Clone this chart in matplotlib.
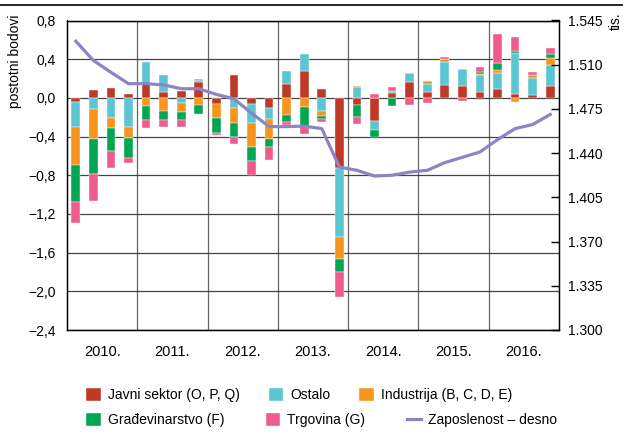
import matplotlib
matplotlib.use('Agg')
import matplotlib.pyplot as plt
from matplotlib.lines import Line2D
import numpy as np

plt.rcParams['font.family'] = ['Liberation Sans', 'DejaVu Sans']

years = ['2010.', '2011.', '2012.', '2013.', '2014.', '2015.', '2016.']

# contributions by sector, quarterly (percentage points)
javni = [-0.045, 0.08, 0.10, 0.045,
         0.14, 0.06, 0.075, 0.165,
         -0.065, 0.24, -0.06, -0.105,
         0.145, 0.28, 0.095, -0.725,
         -0.075, -0.24, 0.05, 0.16,
         0.06, 0.135, 0.125, 0.065,
         0.095, 0.04, 0.028, 0.125]
ostalo = [-0.255, -0.115, -0.205, -0.30,
          0.23, 0.18, -0.05, 0.02,
          0.0, -0.10, -0.20, -0.11,
          0.13, 0.17, -0.135, -0.715,
          0.11, -0.09, 0.02, 0.10,
          0.085, 0.24, 0.17, 0.17,
          0.16, 0.42, 0.18, 0.21]
industrija = [-0.395, -0.315, -0.11, -0.115,
              -0.085, -0.14, -0.10, -0.075,
              -0.14, -0.16, -0.25, -0.21,
              -0.18, -0.095, -0.05, -0.225,
              0.017, 0.0, 0.0, 0.0,
              0.03, 0.025, 0.0, 0.017,
              0.03, -0.045, 0.025, 0.08]
gradevinarstvo = [-0.38, -0.355, -0.235, -0.21,
                  -0.14, -0.085, -0.08, -0.095,
                  -0.16, -0.14, -0.14, -0.08,
                  -0.065, -0.20, -0.035, -0.135,
                  -0.12, -0.07, -0.08, 0.0,
                  0.0, 0.0, 0.0, 0.014,
                  0.075, 0.027, 0.0, 0.035]
trgovina = [-0.215, -0.28, -0.17, -0.045,
            -0.085, -0.08, -0.07, 0.015,
            -0.017, -0.08, -0.145, -0.14,
            -0.04, -0.075, -0.03, -0.26,
            -0.075, 0.04, 0.04, -0.07,
            -0.05, 0.02, -0.03, 0.05,
            0.305, 0.145, 0.03, 0.07]

# employment, thousands (right axis)
zaposlenost = [1.5286, 1.5134, 1.504, 1.495,
               1.495, 1.494, 1.491, 1.491,
               1.4865, 1.483, 1.4717, 1.461,
               1.461, 1.4614, 1.4594, 1.429,
               1.4264, 1.4219, 1.4225, 1.425,
               1.4264, 1.4325, 1.4367, 1.4409,
               1.4507, 1.4594, 1.4627, 1.4706]

series = [
    ('Javni sektor (O, P, Q)', javni, '#BE3A26'),
    ('Ostalo', ostalo, '#5BC5D1'),
    ('Industrija (B, C, D, E)', industrija, '#F7941D'),
    ('Građevinarstvo (F)', gradevinarstvo, '#00A651'),
    ('Trgovina (G)', trgovina, '#EF5B8C'),
]

x = np.arange(len(javni))

fig = plt.figure(figsize=(6.23, 4.32), dpi=100)
ax = fig.add_axes([67 / 623, 102 / 432, 492 / 623, 309.5 / 432])

#stacked bars, positive and negative parts stacked separately
pos = np.zeros(len(x))
neg = np.zeros(len(x))
handles = {}
for name, vals, col in series:
    v = np.array(vals)
    bottom = np.where(v >= 0, pos, neg)
    b = ax.bar(x, v, 0.5, bottom=bottom, color=col, edgecolor='white',
               linewidth=0.3, zorder=2, label=name)
    handles[name] = b
    pos += np.where(v >= 0, v, 0)
    neg += np.where(v < 0, v, 0)

ax.set_xlim(-0.5, 27.5)
ax.set_ylim(-2.4, 0.8)
yt = np.arange(-2.4, 0.81, 0.4)
ax.set_yticks(yt)
ax.set_yticklabels([f"{round(v, 1):.1f}".replace('.', ',').replace('-', '\u2212')
                    if abs(v) > 1e-9 else '0,0' for v in yt], fontsize=10)
ax.tick_params(axis='y', length=0, pad=8)

ax.set_xticks(np.arange(1.5, 28, 4))
ax.set_xticklabels(years, fontsize=10.5)
ax.set_xticks(np.arange(3.5, 27, 4), minor=True)
ax.tick_params(axis='x', which='both', length=0, pad=11)

ax.grid(axis='y', color='#444444', lw=0.9, zorder=0)
ax.grid(axis='x', which='minor', color='#666666', lw=0.9, zorder=0)
ax.set_axisbelow(True)
for s in ax.spines.values():
    s.set_linewidth(1.0)

# employment line on the right axis
ax2 = ax.twinx()
ln, = ax2.plot(x, zaposlenost, color='#8C85C5', lw=2.3, zorder=3,
               label='Zaposlenost \u2013 desno')
ax2.set_ylim(1.300, 1.545)
rt = [1.300 + 0.035 * i for i in range(8)]
ax2.set_yticks(rt)
ax2.set_yticklabels([f"{v:.3f}" for v in rt], fontsize=10)
ax2.tick_params(axis='y', direction='in', length=6, width=1, pad=6.5)

fig.text(15 / 623, 1 - 14 / 432, 'postotni bodovi', rotation=90,
         ha='center', va='top', fontsize=10)
fig.text(616 / 623, 1 - 12 / 432, 'tis.', rotation=90,
         ha='center', va='top', fontsize=10)

# rule across the top
fig.add_artist(Line2D([0, 1], [1 - 5 / 432] * 2, color='black', lw=1.2))

# legend, two rows
leg_kw = dict(ncol=3, loc='upper left', frameon=False, fontsize=10,
              handlelength=1.05, handleheight=1.05, handletextpad=0.5,
              borderpad=0, borderaxespad=0)
row1 = ['Javni sektor (O, P, Q)', 'Ostalo', 'Industrija (B, C, D, E)']
fig.legend([handles[n] for n in row1], row1,
           bbox_to_anchor=(86 / 623, 1 - 388 / 432), columnspacing=2.1, **leg_kw)
row2 = ['Građevinarstvo (F)', 'Trgovina (G)']
fig.legend([handles[n] for n in row2] + [ln], row2 + ['Zaposlenost \u2013 desno'],
           bbox_to_anchor=(86 / 623, 1 - 413 / 432), columnspacing=3.0, **leg_kw)

fig.savefig('out.png', dpi=100)
